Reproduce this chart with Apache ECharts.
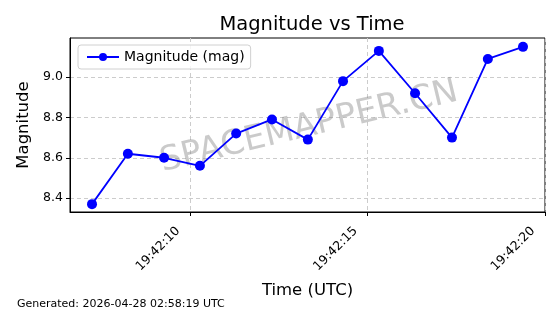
<!DOCTYPE html>
<html>
<head>
<meta charset="utf-8">
<script src="https://cdn.jsdelivr.net/npm/echarts@6/dist/echarts.min.js"></script>
<style>
  html, body { margin: 0; padding: 0; background: #fff; }
  #chart { width: 560px; height: 314px; }
</style>
</head>
<body>
<div id="chart"></div>
<script>
// times (UTC), magnitudes off the y axis
const times = ["19:42:07.24", "19:42:08.25", "19:42:09.27", "19:42:10.28", "19:42:11.30",
  "19:42:12.31", "19:42:13.32", "19:42:14.31", "19:42:15.32", "19:42:16.34",
  "19:42:17.38", "19:42:18.39", "19:42:19.38"];
const magnitudes = [8.37, 8.62, 8.60, 8.56, 8.72, 8.79, 8.69, 8.98, 9.13, 8.92, 8.70, 9.09, 9.15];
const xTicks = ["19:42:10", "19:42:15", "19:42:20"];
const yTicks = [8.4, 8.6, 8.8, 9.0];

const toSec = (t) => {
  const [h, m, s] = t.split(":").map(Number);
  return h * 3600 + m * 60 + s;
};
const pad = (n) => String(n).padStart(2, "0");
const fmtTime = (v) => {
  const s = Math.round(v);
  return pad(Math.floor(s / 3600)) + ":" + pad(Math.floor(s / 60) % 60) + ":" + pad(s % 60);
};

const xTickVals = xTicks.map(toSec);
const seriesData = times.map((t, i) => [toSec(t), magnitudes[i]]);

const font = "DejaVu Sans";
const chart = echarts.init(document.getElementById("chart"));
const option = {
  animation: false,
  backgroundColor: "#fff",
  textStyle: { fontFamily: font },
  title: {
    text: "Magnitude vs Time",
    left: 307,
    textAlign: "center",
    top: 10,
    textStyle: { fontFamily: font, fontSize: 19.5, fontWeight: "normal", color: "#000" },
  },
  legend: {
    left: 78,
    top: 45,
    padding: [5, 6, 5, 8],
    itemWidth: 32,
    itemHeight: 10,
    itemGap: 8,
    borderColor: "#d0d0d0",
    borderWidth: 1,
    borderRadius: 3,
    backgroundColor: "rgba(255,255,255,0.8)",
    textStyle: { fontFamily: font, fontSize: 14, color: "#000" },
    data: ["Magnitude (mag)"],
  },
  grid: {
    left: 70,
    right: 15,
    top: 38,
    bottom: 102,
    show: true,
    borderColor: "#000",
    borderWidth: 1,
    backgroundColor: "transparent",
  },
  xAxis: {
    type: "value",
    min: toSec("19:42:06.62"),
    max: toSec("19:42:20"),
    name: "Time (UTC)",
    nameLocation: "middle",
    nameGap: 70,
    nameTextStyle: { fontFamily: font, fontSize: 16.5, color: "#000" },
    axisLine: { show: true, lineStyle: { color: "#000" } },
    axisTick: { show: true, length: 4, customValues: xTickVals, lineStyle: { color: "#000" } },
    axisLabel: {
      customValues: xTickVals,
      rotate: 45,
      fontSize: 12.5,
      color: "#000",
      margin: 5,
      padding: [0, 17, 0, 0],
      formatter: fmtTime,
    },
    splitLine: { show: true, lineStyle: { color: "#cccccc", type: [4, 3] } },
  },
  yAxis: {
    type: "value",
    min: 8.331,
    max: 9.194,
    name: "Magnitude",
    nameLocation: "middle",
    nameGap: 38,
    nameTextStyle: { fontFamily: font, fontSize: 16.5, color: "#000" },
    axisLine: { show: true, lineStyle: { color: "#000" } },
    axisTick: { show: true, length: 4, customValues: yTicks, lineStyle: { color: "#000" } },
    axisLabel: {
      customValues: yTicks,
      fontSize: 12.5,
      color: "#000",
      margin: 7,
      formatter: (v) => v.toFixed(1),
    },
    splitLine: { show: true, lineStyle: { color: "#cccccc", type: [4, 3] } },
  },
  graphic: [
    {
      type: "text",
      x: 309,
      y: 127,
      rotation: (13.5 * Math.PI) / 180,
      style: {
        text: "SPACEMAPPER.CN",
        fontFamily: font,
        fontSize: 34,
        align: "center",
        verticalAlign: "middle",
        fill: "rgba(128,128,128,0.42)",
      },
      z: 1,
    },
    {
      type: "text",
      left: 17,
      top: 299,
      style: {
        text: "Generated: 2026-04-28 02:58:19 UTC",
        fontFamily: font,
        fontSize: 11,
        fill: "#000",
      },
    },
  ],
  series: [
    {
      name: "Magnitude (mag)",
      type: "line",
      data: seriesData,
      symbol: "circle",
      symbolSize: 10,
      showAllSymbol: true,
      itemStyle: { color: "#0000ff" },
      lineStyle: { color: "#0000ff", width: 1.8 },
      z: 3,
    },
  ],
};
chart.setOption(option);
</script>
</body>
</html>
